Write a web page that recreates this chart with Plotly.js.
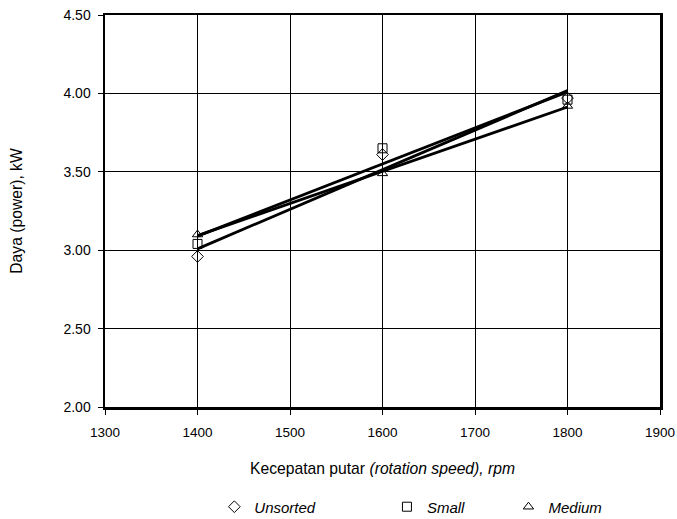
<!DOCTYPE html>
<html>
<head>
<meta charset="utf-8">
<script src="https://cdn.plot.ly/plotly-3.0.1.min.js"></script>
<style>html,body{margin:0;padding:0;background:#fff;}#chart{width:677px;height:519px;}</style>
</head>
<body>
<div id="chart"></div>
<script>
const speeds = [1400, 1600, 1800];
const unsorted = [2.96, 3.61, 3.97];
const small = [3.04, 3.65, 3.96];
const medium = [3.10, 3.49, 3.92];
const seriesNames = ['Unsorted', 'Small', 'Medium'];
const xTicks = [1300, 1400, 1500, 1600, 1700, 1800, 1900];
const yTicks = [2.0, 2.5, 3.0, 3.5, 4.0, 4.5];

function linfit(x, y) {
  const n = x.length;
  const mx = x.reduce((a, b) => a + b, 0) / n;
  const my = y.reduce((a, b) => a + b, 0) / n;
  let sxy = 0, sxx = 0;
  for (let i = 0; i < n; i++) { sxy += (x[i] - mx) * (y[i] - my); sxx += (x[i] - mx) ** 2; }
  const b = sxy / sxx, a = my - b * mx;
  return x.map(v => a + b * v);
}

const series = [unsorted, small, medium];
const symbols = ['diamond-open', 'square-open', 'triangle-up-open'];
const legends = ['legend', 'legend2', 'legend3'];
const traces = [];
series.forEach((s, i) => {
  traces.push({
    x: speeds, y: linfit(speeds, s), mode: 'lines', showlegend: false,
    line: {color: '#000', width: 2.8}, hoverinfo: 'skip'
  });
});
series.forEach((s, i) => {
  traces.push({
    x: speeds, y: s, mode: 'markers', name: '<i>' + seriesNames[i] + '</i>',
    legend: legends[i],
    marker: {symbol: symbols[i], size: 9, color: '#000', line: {color: '#000', width: 1}}
  });
});

const FONT = 'Liberation Sans, Arial, sans-serif';
const legendBase = {orientation: 'h', yref: 'paper', xref: 'paper', yanchor: 'middle', xanchor: 'left',
  font: {family: FONT, size: 15, color: '#000'}, bgcolor: 'rgba(0,0,0,0)', itemwidth: 30};

const layout = {
  width: 677, height: 519,
  margin: {l: 105, r: 17, t: 15, b: 112, autoexpand: false},
  paper_bgcolor: '#fff', plot_bgcolor: '#fff',
  font: {family: FONT, size: 14, color: '#000'},
  xaxis: {
    range: [1300, 1900], tickvals: xTicks, ticktext: xTicks.map(String),
    showgrid: true, gridcolor: '#000', gridwidth: 1,
    showline: true, linecolor: '#000', linewidth: 2.5, mirror: true,
    ticks: 'outside', ticklen: 5, tickcolor: '#000', zeroline: false,
    tickfont: {size: 13.5}, ticklabelstandoff: 6, automargin: false,
    ticklabeloverflow: 'allow',
    title: {text: 'Kecepatan putar <i>(rotation speed), rpm</i>', font: {size: 15.7}, standoff: 25}
  },
  yaxis: {
    range: [2, 4.5], tickvals: yTicks, ticktext: yTicks.map(v => v.toFixed(2)),
    showgrid: true, gridcolor: '#000', gridwidth: 1,
    showline: true, linecolor: '#000', linewidth: 2.5, mirror: true,
    ticks: 'outside', ticklen: 5, tickcolor: '#000', zeroline: false,
    tickfont: {size: 14}, ticklabelstandoff: 4, automargin: false,
    ticklabeloverflow: 'allow',
    title: {text: 'Daya (power), kW', font: {size: 15.7}, standoff: 37}
  },
  legend: Object.assign({}, legendBase, {x: 0.197, y: -0.255}),
  legend2: Object.assign({}, legendBase, {x: 0.508, y: -0.255}),
  legend3: Object.assign({}, legendBase, {x: 0.727, y: -0.255}),
  showlegend: true
};

Plotly.newPlot('chart', traces, layout, {displayModeBar: false, staticPlot: true});
</script>
</body>
</html>
